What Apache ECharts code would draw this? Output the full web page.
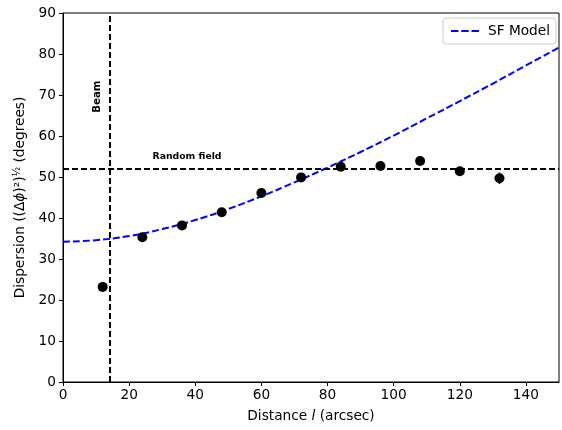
<!DOCTYPE html>
<html>
<head>
<meta charset="utf-8">
<script src="https://cdn.jsdelivr.net/npm/echarts@6/dist/echarts.min.js"></script>
<style>
  html, body { margin: 0; padding: 0; background: #fff; }
  #chart { width: 562px; height: 430px; }
</style>
</head>
<body>
<div id="chart"></div>
<script>
// measured dispersion vs distance
const distances = [12, 24, 36, 48, 60, 72, 84, 96, 108, 120, 132];
const dispersion = [23.2, 35.3, 38.2, 41.4, 46.1, 49.9, 52.5, 52.7, 53.9, 51.4, 49.7];
const dispErr = [0.6, 0.6, 0.6, 0.7, 0.7, 0.8, 0.8, 0.9, 1.0, 1.1, 1.4];

// SF model curve
const modelL = [0, 10, 20, 30, 40, 50, 60, 70, 80, 90, 100, 110, 120, 130, 140, 150];
const modelY = [34.2, 34.6, 35.6, 37.3, 39.5, 42.2, 45.3, 48.7, 52.3, 56.1, 60.1, 64.3, 68.5, 72.8, 77.2, 81.6];

const beamSize = 14;
const randomField = 52;

const font = 'DejaVu Sans';
const fs = 13.7;
let chart;

function showChart() {
  chart = echarts.init(document.getElementById('chart'));

  const option = {
    animation: false,
    textStyle: { fontFamily: font },
    grid: {
      left: 63, right: 3, top: 13, bottom: 48,
      containLabel: false,
      outerBoundsMode: 'none',
      show: true,
      borderColor: '#000',
      borderWidth: 1,
    },
    legend: {
      right: 6, top: 18,
      data: [{ name: 'SF Model', icon: 'path://M0,0h8v2h-8z M11,0h8v2h-8z M22,0h8v2h-8z' }],
      backgroundColor: '#fff',
      borderColor: '#ccc',
      borderWidth: 1,
      borderRadius: 3,
      padding: [6, 6, 6, 8],
      itemWidth: 28,
      itemHeight: 2,
      itemGap: 6,
      itemStyle: { color: '#0000ff' },
      textStyle: { fontFamily: font, fontSize: fs, color: '#000', padding: [0, 0, 0, 4] },
    },
    xAxis: {
      type: 'value',
      min: 0, max: 150, interval: 20,
      name: 'Distance {i|l} (arcsec)',
      nameLocation: 'middle',
      nameGap: 27,
      nameTextStyle: {
        fontFamily: font, fontSize: fs, color: '#000',
        rich: { i: { fontFamily: font, fontSize: fs, fontStyle: 'italic', color: '#000' } },
      },
      axisLine: { lineStyle: { color: '#000', width: 1 } },
      axisTick: { length: 4, lineStyle: { color: '#000' } },
      axisLabel: { color: '#000', fontSize: fs, margin: 6, showMaxLabel: false },
      splitLine: { show: false },
    },
    yAxis: {
      type: 'value',
      min: 0, max: 90, interval: 10,
      name: 'Dispersion ((Δ{i|ϕ})²){s|½} (degrees)',
      nameLocation: 'middle',
      nameGap: 35,
      nameTextStyle: {
        fontFamily: font, fontSize: fs, color: '#000',
        rich: {
          i: { fontFamily: font, fontSize: fs, fontStyle: 'italic', color: '#000' },
          s: { fontFamily: font, fontSize: 10, color: '#000', verticalAlign: 'top', padding: [0, 0, 6, 0] },
        },
      },
      axisLine: { lineStyle: { color: '#000', width: 1 } },
      axisTick: { length: 4, lineStyle: { color: '#000' } },
      axisLabel: { color: '#000', fontSize: fs, margin: 7 },
      splitLine: { show: false },
    },
    series: [
      {
        name: 'SF Model',
        type: 'line',
        data: modelL.map((l, i) => [l, modelY[i]]),
        smooth: true,
        symbol: 'none',
        lineStyle: { color: '#0000ff', width: 2, type: [7, 3] },
        itemStyle: { color: '#0000ff' },
        z: 3,
        markLine: {
          silent: true,
          symbol: 'none',
          label: { show: false },
          lineStyle: { color: '#000', width: 2, type: [6, 3] },
          data: [{ xAxis: beamSize }, { yAxis: randomField }],
        },
      },
      {
        name: 'err',
        type: 'custom',
        data: distances.map((d, i) => [d, dispersion[i] - dispErr[i], dispersion[i] + dispErr[i]]),
        renderItem: (params, api) => {
          const lo = api.coord([api.value(0), api.value(1)]);
          const hi = api.coord([api.value(0), api.value(2)]);
          return {
            type: 'line',
            shape: { x1: lo[0], y1: lo[1], x2: hi[0], y2: hi[1] },
            style: { stroke: '#000', lineWidth: 1.5 },
          };
        },
        z: 4,
      },
      {
        name: 'data',
        type: 'scatter',
        data: distances.map((d, i) => [d, dispersion[i]]),
        symbol: 'circle',
        symbolSize: 10,
        itemStyle: { color: '#000', opacity: 1 },
        z: 5,
      },
    ],
  };
  chart.setOption(option);

  // annotations placed in data coordinates
  const beamPos = chart.convertToPixel({ gridIndex: 0 }, [10.4, 69.6]);
  const randPos = chart.convertToPixel({ gridIndex: 0 }, [37.5, 55]);
  chart.setOption({
    graphic: [
      {
        type: 'text',
        x: beamPos[0], y: beamPos[1],
        rotation: Math.PI / 2,
        style: {
          text: 'Beam', fontFamily: font, fontSize: 10.2, fontWeight: 'bold',
          fill: '#000', align: 'center', verticalAlign: 'middle',
        },
      },
      {
        type: 'text',
        x: randPos[0], y: randPos[1],
        style: {
          text: 'Random field', fontFamily: font, fontSize: 9.3, fontWeight: 'bold',
          fill: '#000', align: 'center', verticalAlign: 'middle',
        },
      },
    ],
  });
}

showChart();
</script>
</body>
</html>
